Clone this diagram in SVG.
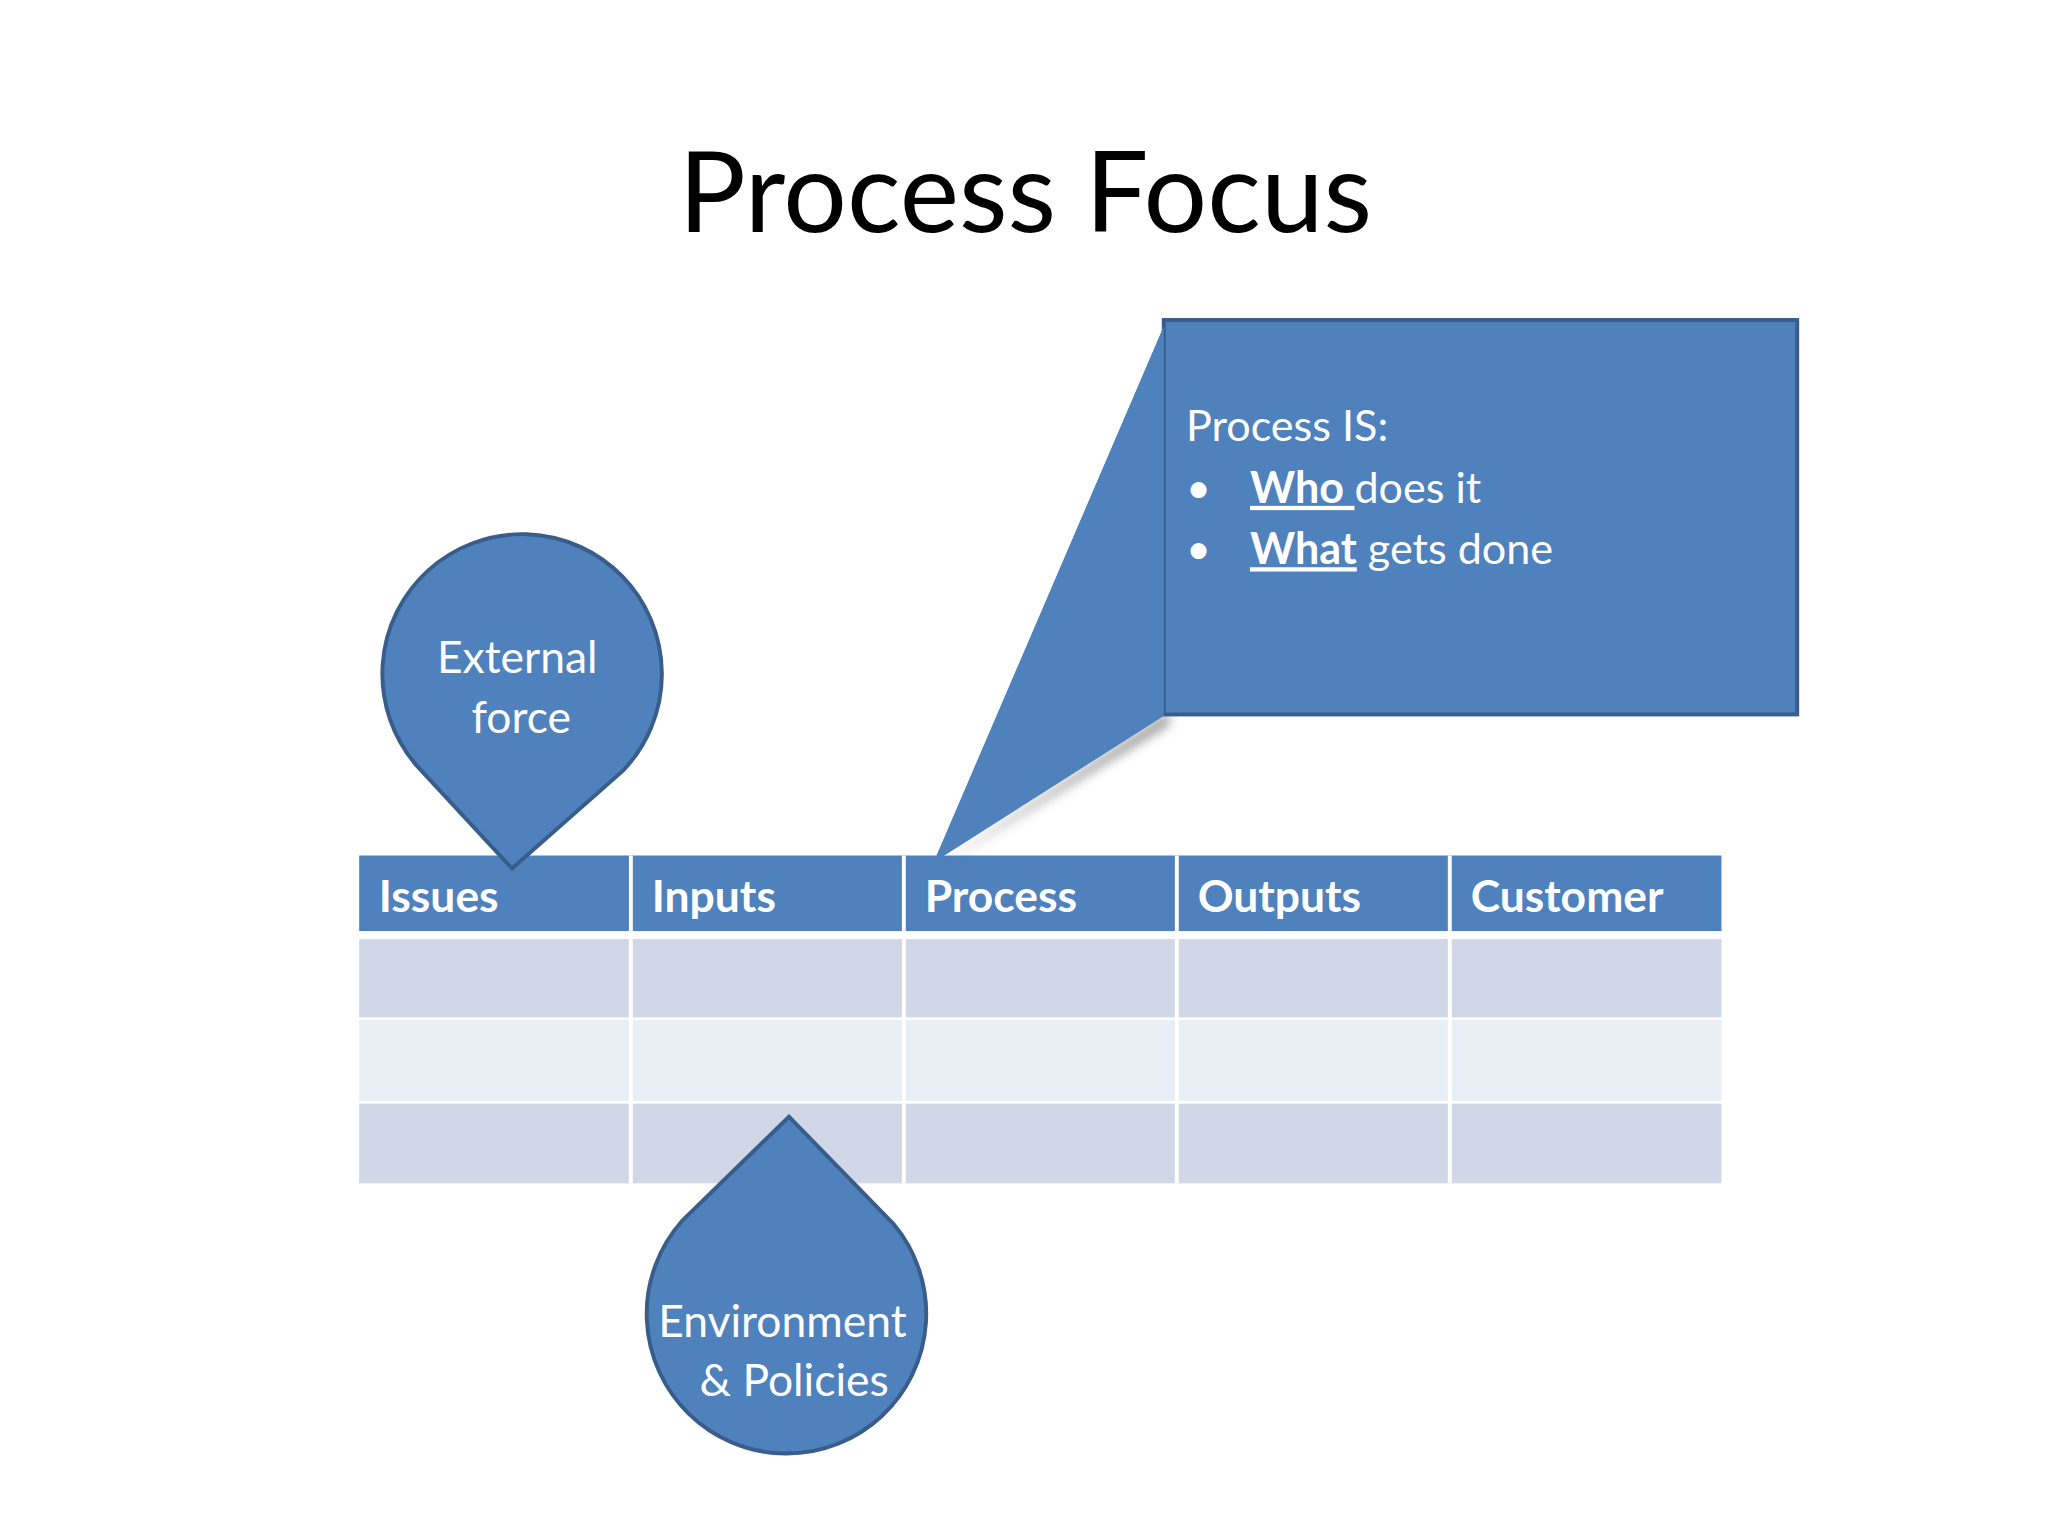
<svg xmlns="http://www.w3.org/2000/svg" width="2048" height="1536" viewBox="0 0 2048 1536">
<defs>
<style>
text{font-family:Lato,"Open Sans",sans-serif;fill:#fff}
.h{font-weight:bold;font-size:34px}
.shape{fill:#4f81bd;stroke:#385d8a;stroke-width:3}
.d{fill:#d0d8e8}.l{fill:#e9edf4}
</style>
<filter id="sh" x="-20%" y="-20%" width="140%" height="140%"><feGaussianBlur stdDeviation="4"/></filter>
</defs>
<rect width="2048" height="1536" fill="#fff"/>
<g transform="scale(1.30612)">
<text x="785" y="178" text-anchor="middle" font-size="86" style="fill:#000">Process Focus</text>
<g id="table">
<rect x="275" y="655" width="1043" height="58" fill="#4f81bd"/>
<rect x="275" y="719" width="1043" height="60" class="d"/>
<rect x="275" y="781" width="1043" height="62" class="l"/>
<rect x="275" y="845" width="1043" height="61" class="d"/>
<g stroke="#fff" stroke-width="3">
<line x1="483" y1="655" x2="483" y2="906"/><line x1="692" y1="655" x2="692" y2="906"/>
<line x1="901" y1="655" x2="901" y2="906"/><line x1="1110" y1="655" x2="1110" y2="906"/>
<line x1="275" y1="716" x2="1318" y2="716" stroke-width="6"/>
</g>
<text class="h" x="290" y="698">Issues</text>
<text class="h" x="499" y="698">Inputs</text>
<text class="h" x="708" y="698">Process</text>
<text class="h" x="917" y="698">Outputs</text>
<text class="h" x="1126" y="698">Customer</text>
</g>
<g id="callout">
<path d="M895,545 L720,662 L895,555 Z" fill="#555" filter="url(#sh)" opacity="0.6"/>
<path d="M891,250 L715,660 L891,548 Z" fill="#4f81bd"/>
<rect x="891" y="245" width="485" height="302" class="shape"/>
<path d="M891,250 L715,660 L891,548" fill="#4f81bd" stroke="none"/>
<text x="908" y="338" font-size="33">Process IS:</text>
<text x="908" y="385" font-size="33">•</text>
<text x="908" y="432" font-size="33">•</text>
<text x="957" y="385" font-size="33"><tspan font-weight="bold" text-decoration="underline">Who </tspan>does it</text>
<text x="957" y="432" font-size="33"><tspan font-weight="bold" text-decoration="underline">What</tspan> gets done</text>
</g>
<g id="external">
<path class="shape" d="M392,665 L318,585 A107,107 0 1 1 477,590 Z"/>
<text x="396" y="515" font-size="34" text-anchor="middle">External</text>
<text x="399" y="561" font-size="34" text-anchor="middle">force</text>
</g>
<g id="environment">
<path class="shape" d="M604,855 L684,937 A107,107 0 1 1 522,935 Z"/>
<text x="599" y="1024" font-size="34" text-anchor="middle">Environment</text>
<text x="608" y="1069" font-size="34" text-anchor="middle">&amp; Policies</text>
</g>
</g>
</svg>
